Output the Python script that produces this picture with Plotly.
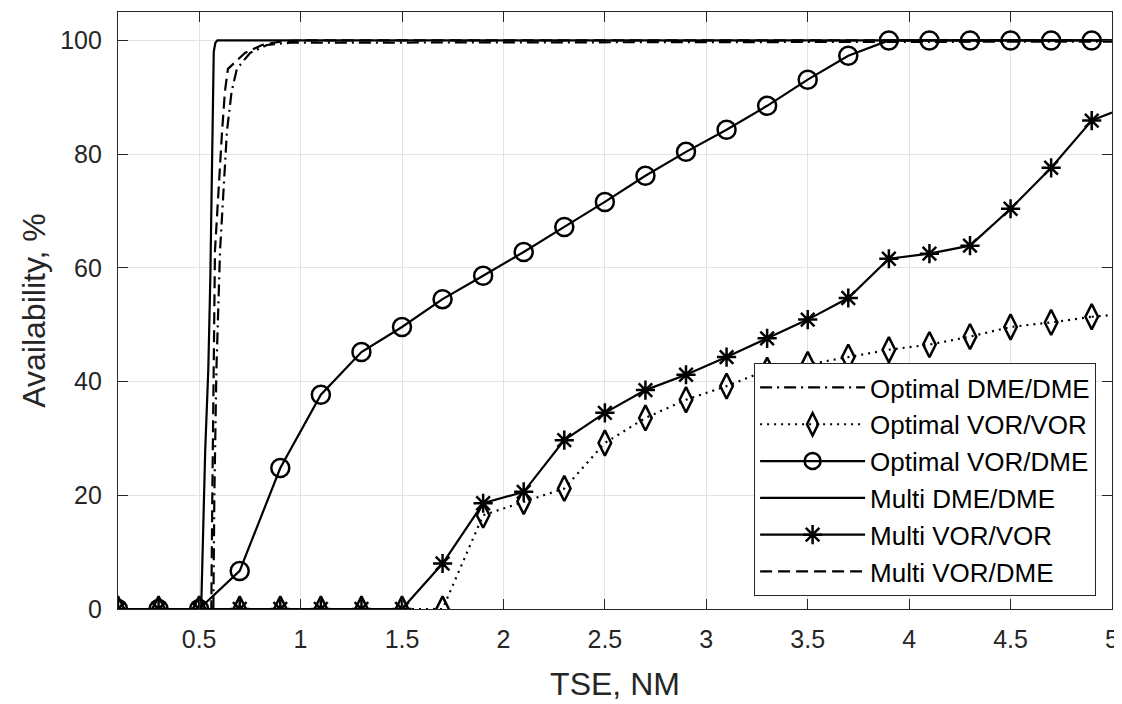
import plotly.graph_objects as go

# ---------------- data ----------------
x_mark = [0.1, 0.3, 0.5, 0.7, 0.9, 1.1, 1.3, 1.5, 1.7, 1.9, 2.1, 2.3, 2.5,
          2.7, 2.9, 3.1, 3.3, 3.5, 3.7, 3.9, 4.1, 4.3, 4.5, 4.7, 4.9]
x_end = [4.9, 5.0]

opt_vor_dme = [0, 0, 0, 6.7, 24.8, 37.7, 45.2, 49.6, 54.5, 58.6, 62.8, 67.2, 71.6,
               76.2, 80.4, 84.3, 88.5, 93.1, 97.3, 100, 100, 100, 100, 100, 100]
opt_vor_dme_end = [100, 100]

multi_vor_vor = [0, 0, 0, 0, 0, 0, 0, 0, 8.0, 18.6, 20.6, 29.7, 34.5,
                 38.5, 41.2, 44.3, 47.6, 50.9, 54.7, 61.6, 62.5, 63.9, 70.4, 77.6, 85.9]
multi_vor_vor_end = [85.9, 87.3]

opt_vor_vor = [0, 0, 0, 0, 0, 0, 0, 0, 0, 16.5, 18.9, 21.2, 29.2,
               33.6, 36.8, 39.2, 42.0, 43.0, 44.3, 45.6, 46.5, 47.9, 49.6, 50.4, 51.4]
opt_vor_vor_end = [51.4, 51.7]

multi_dme_x = [0.1, 0.51, 0.53, 0.545, 0.555, 0.567, 0.572, 0.58, 0.59, 5.0]
multi_dme_y = [0, 0, 28, 42, 58, 84, 98, 99.6, 100, 100]

multi_vd_x = [0.1, 0.56, 0.565, 0.57, 0.578, 0.613, 0.627, 0.642, 0.726, 0.81, 0.9, 1.0, 5.0]
multi_vd_y = [0, 0, 20, 42, 63, 84, 91, 95, 97.8, 99.2, 99.8, 100, 100]

opt_dme_x = [0.1, 0.57, 0.575, 0.585, 0.603, 0.637, 0.66, 0.686, 0.751, 0.834, 0.95, 5.0]
opt_dme_y = [0, 0, 20, 42, 63, 84, 91, 95, 97.8, 99.2, 99.6, 99.8]

x_ticks = [0.5, 1, 1.5, 2, 2.5, 3, 3.5, 4, 4.5, 5]
x_ticktext = ["0.5", "1", "1.5", "2", "2.5", "3", "3.5", "4", "4.5", "5"]
y_ticks = [0, 20, 40, 60, 80, 100]

# ---------------- style ----------------
FONT = "Liberation Sans, Arial, Helvetica, sans-serif"
TXT = "#262626"
LW = 2.2
MLW = 2.5

fig = go.Figure()

fig.add_trace(go.Scatter(
    x=opt_dme_x, y=opt_dme_y, mode="lines", name="Optimal DME/DME",
    line=dict(color="black", width=LW, dash="12px,5px,2px,5px"),
    legendgroup="a"))

fig.add_trace(go.Scatter(
    x=x_mark, y=opt_vor_vor, mode="lines+markers", name="Optimal VOR/VOR",
    line=dict(color="black", width=LW, dash="2px,5px"),
    marker=dict(symbol="diamond-tall-open", size=18, color="black",
                line=dict(color="black", width=MLW)),
    legendgroup="b"))
fig.add_trace(go.Scatter(
    x=x_end, y=opt_vor_vor_end, mode="lines", showlegend=False,
    line=dict(color="black", width=LW, dash="2px,5px"), legendgroup="b"))

fig.add_trace(go.Scatter(
    x=x_mark, y=opt_vor_dme, mode="lines+markers", name="Optimal VOR/DME",
    line=dict(color="black", width=LW),
    marker=dict(symbol="circle-open", size=18, color="black",
                line=dict(color="black", width=MLW)),
    legendgroup="c"))
fig.add_trace(go.Scatter(
    x=x_end, y=opt_vor_dme_end, mode="lines", showlegend=False,
    line=dict(color="black", width=LW), legendgroup="c"))

fig.add_trace(go.Scatter(
    x=multi_dme_x, y=multi_dme_y, mode="lines", name="Multi DME/DME",
    line=dict(color="black", width=LW),
    legendgroup="d"))

fig.add_trace(go.Scatter(
    x=x_mark, y=multi_vor_vor, mode="lines+markers", name="Multi VOR/VOR",
    line=dict(color="black", width=LW),
    marker=dict(symbol="asterisk-open", size=16, color="black",
                line=dict(color="black", width=MLW)),
    legendgroup="e"))
fig.add_trace(go.Scatter(
    x=x_end, y=multi_vor_vor_end, mode="lines", showlegend=False,
    line=dict(color="black", width=LW), legendgroup="e"))

fig.add_trace(go.Scatter(
    x=multi_vd_x, y=multi_vd_y, mode="lines", name="Multi VOR/DME",
    line=dict(color="black", width=LW, dash="12px,6px"),
    legendgroup="f"))

axis_common = dict(
    showline=True, linecolor=TXT, linewidth=1.2, mirror="ticks",
    ticks="inside", ticklen=10, tickcolor=TXT, tickwidth=1.2,
    showgrid=True, gridcolor="#e3e3e3", gridwidth=1, zeroline=False,
    tickfont=dict(family=FONT, size=25, color=TXT), automargin=False,
)

# The page body adds an 8px offset, so the figure is 8px smaller and margins
# are shifted to keep the plot area where the reference has it.
fig.update_layout(
    width=1114, height=696,
    margin=dict(l=110, r=10, t=4, b=95),
    paper_bgcolor="white", plot_bgcolor="white",
    font=dict(family=FONT, color=TXT),
    xaxis=dict(range=[0.1, 5], tickvals=x_ticks, ticktext=x_ticktext,
               ticklabelstandoff=8,
               title=dict(text="TSE, NM", font=dict(family=FONT, size=32, color=TXT), standoff=20),
               **axis_common),
    yaxis=dict(range=[0, 105], tickvals=y_ticks, ticklabelstandoff=10,
               title=dict(text="Availability, %", font=dict(family=FONT, size=32, color=TXT), standoff=4),
               **axis_common),
    legend=dict(
        x=0.984, y=0.412, xanchor="right", yanchor="top",
        bgcolor="white", bordercolor=TXT, borderwidth=1,
        font=dict(family=FONT, size=26, color="black"),
        traceorder="grouped", tracegroupgap=0, itemwidth=105,
    ),
    showlegend=True,
)

fig.write_html("out.html")
